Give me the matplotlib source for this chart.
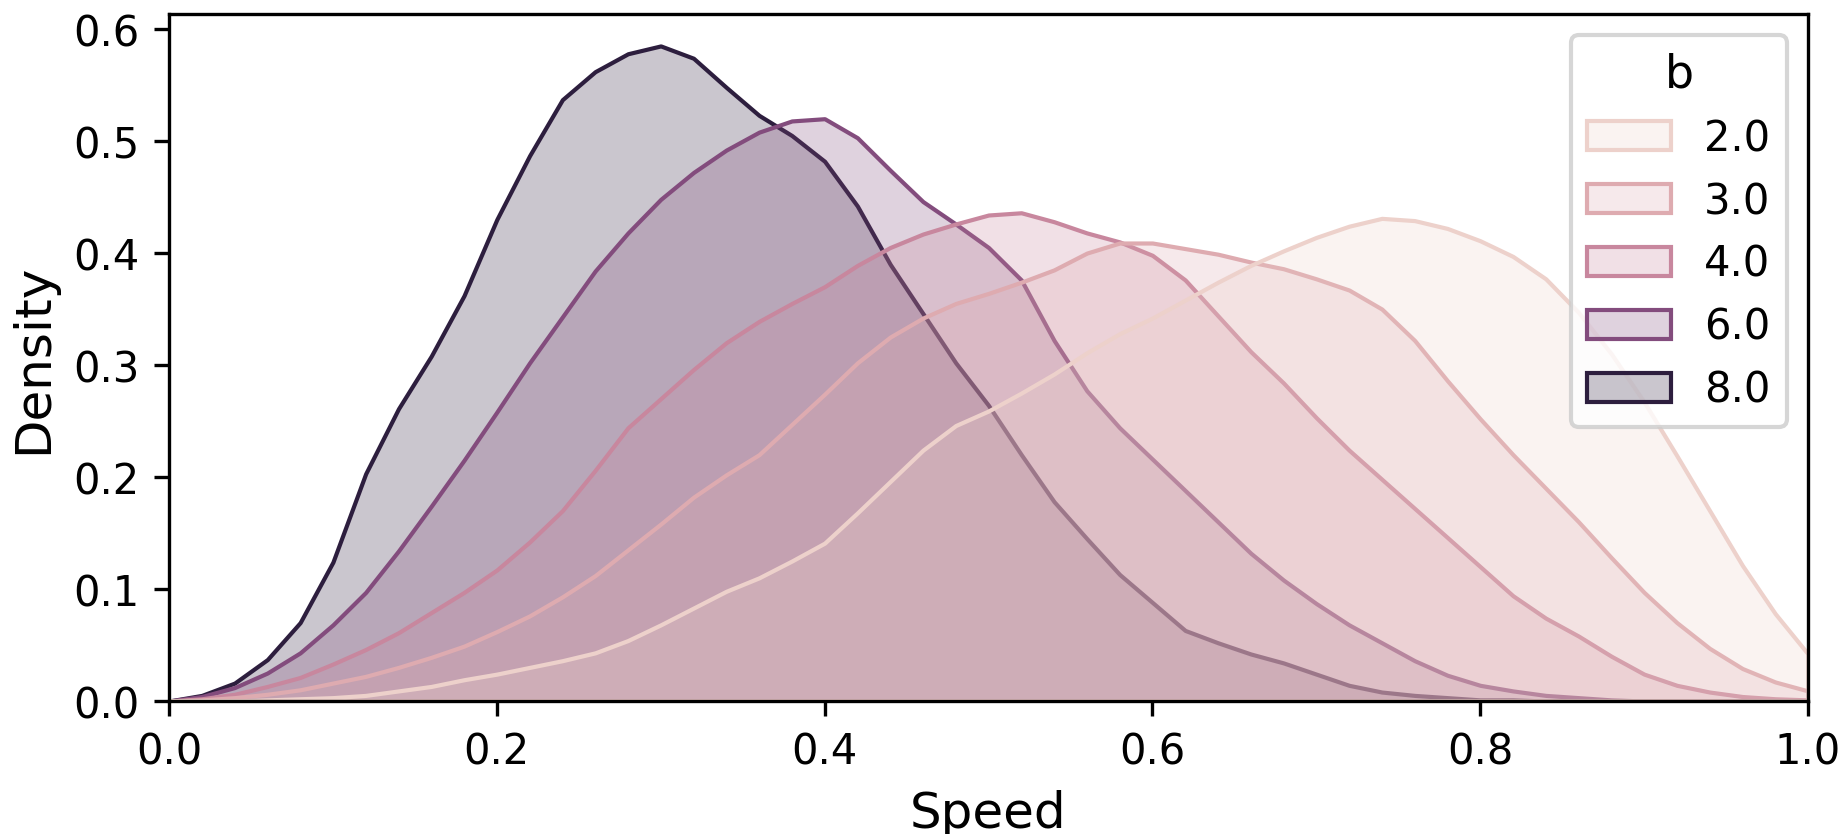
import numpy as np
import matplotlib
matplotlib.use("Agg")
import matplotlib.pyplot as plt
from matplotlib.patches import Patch

# ---- data ----
speed = [0.00, 0.02, 0.04, 0.06, 0.08, 0.10, 0.12, 0.14, 0.16, 0.18,
         0.20, 0.22, 0.24, 0.26, 0.28, 0.30, 0.32, 0.34, 0.36, 0.38,
         0.40, 0.42, 0.44, 0.46, 0.48, 0.50, 0.52, 0.54, 0.56, 0.58,
         0.60, 0.62, 0.64, 0.66, 0.68, 0.70, 0.72, 0.74, 0.76, 0.78,
         0.80, 0.82, 0.84, 0.86, 0.88, 0.90, 0.92, 0.94, 0.96, 0.98, 1.00]

b_levels = [2.0, 3.0, 4.0, 6.0, 8.0]

density_b2 = [0.000, 0.000, 0.000, 0.001, 0.002, 0.003, 0.005, 0.009, 0.013, 0.019,
              0.024, 0.030, 0.036, 0.043, 0.054, 0.068, 0.083, 0.098, 0.110, 0.125,
              0.141, 0.168, 0.196, 0.224, 0.246, 0.259, 0.275, 0.292, 0.311, 0.328,
              0.342, 0.358, 0.374, 0.389, 0.402, 0.414, 0.424, 0.431, 0.429, 0.422,
              0.411, 0.397, 0.377, 0.347, 0.310, 0.267, 0.219, 0.170, 0.121, 0.078, 0.042]

density_b3 = [0.000, 0.001, 0.003, 0.006, 0.010, 0.016, 0.022, 0.030, 0.039, 0.049,
              0.062, 0.076, 0.093, 0.112, 0.135, 0.158, 0.182, 0.202, 0.220, 0.247,
              0.274, 0.302, 0.325, 0.342, 0.355, 0.364, 0.374, 0.385, 0.400, 0.409,
              0.409, 0.404, 0.399, 0.392, 0.386, 0.377, 0.367, 0.350, 0.322, 0.286,
              0.252, 0.220, 0.190, 0.160, 0.128, 0.097, 0.070, 0.047, 0.029, 0.017, 0.009]

density_b4 = [0.000, 0.002, 0.006, 0.013, 0.021, 0.033, 0.046, 0.061, 0.079, 0.097,
              0.117, 0.142, 0.170, 0.206, 0.244, 0.270, 0.296, 0.320, 0.339, 0.355,
              0.370, 0.389, 0.405, 0.417, 0.426, 0.434, 0.436, 0.428, 0.418, 0.410,
              0.398, 0.376, 0.344, 0.312, 0.284, 0.253, 0.224, 0.198, 0.172, 0.146,
              0.120, 0.094, 0.074, 0.058, 0.040, 0.024, 0.014, 0.008, 0.004, 0.002, 0.001]

density_b6 = [0.000, 0.004, 0.012, 0.025, 0.043, 0.068, 0.097, 0.134, 0.174, 0.215,
              0.258, 0.302, 0.343, 0.384, 0.418, 0.448, 0.472, 0.492, 0.508, 0.518,
              0.520, 0.503, 0.474, 0.446, 0.426, 0.405, 0.376, 0.322, 0.277, 0.244,
              0.216, 0.188, 0.160, 0.132, 0.108, 0.087, 0.068, 0.052, 0.036, 0.023,
              0.014, 0.009, 0.005, 0.003, 0.001, 0.000, 0.000, 0.000, 0.000, 0.000, 0.000]

density_b8 = [0.000, 0.005, 0.016, 0.037, 0.070, 0.124, 0.203, 0.261, 0.308, 0.362,
              0.430, 0.487, 0.537, 0.562, 0.578, 0.585, 0.574, 0.548, 0.523, 0.505,
              0.482, 0.442, 0.390, 0.346, 0.302, 0.264, 0.220, 0.178, 0.145, 0.113,
              0.088, 0.063, 0.052, 0.042, 0.034, 0.024, 0.014, 0.008, 0.005, 0.003,
              0.001, 0.001, 0.000, 0.000, 0.000, 0.000, 0.000, 0.000, 0.000, 0.000, 0.000]

series = {2.0: density_b2, 3.0: density_b3, 4.0: density_b4,
          6.0: density_b6, 8.0: density_b8}


# ---- seaborn-like default cubehelix colormap for numeric hue ----
def cubehelix_color(t, start=0.0, rot=0.4, gamma=1.0, hue=0.8, light=0.85, dark=0.15):
    x = light + (dark - light) * t
    xg = x ** gamma
    a = hue * xg * (1 - xg) / 2
    phi = 2 * np.pi * (start / 3 + rot * x)
    r = xg + a * (-0.14861 * np.cos(phi) + 1.78277 * np.sin(phi))
    g = xg + a * (-0.29227 * np.cos(phi) - 0.90649 * np.sin(phi))
    b = xg + a * (1.97294 * np.cos(phi))
    return tuple(float(np.clip(v, 0, 1)) for v in (r, g, b))


vmin, vmax = min(b_levels), max(b_levels)
colors = {lv: cubehelix_color((lv - vmin) / (vmax - vmin)) for lv in b_levels}

fig = plt.figure(figsize=(6.15, 2.78333), dpi=300)
ax = fig.add_axes([169 / 1845, 133 / 835, (1808 - 169) / 1845, (702 - 15) / 835])

x = np.array(speed)
for lv in reversed(b_levels):
    y = np.array(series[lv])
    c = colors[lv]
    ax.fill_between(x, 0, y, facecolor=(*c, 0.25), edgecolor=(*c, 1.0),
                    linewidth=1.0, joinstyle="round")

ax.set_xlim(0, 1)
ax.set_ylim(0, 0.6135)
ax.set_xlabel("Speed", fontsize=12)
ax.set_ylabel("Density", fontsize=12)
ax.tick_params(labelsize=10)

handles = [Patch(facecolor=(*colors[lv], 0.25), edgecolor=(*colors[lv], 1.0), linewidth=1.0)
           for lv in b_levels]
ax.legend(handles, [str(lv) for lv in b_levels], title="b", loc="upper right",
          fontsize=10, title_fontsize=11)

fig.savefig("out.png", dpi=300)
